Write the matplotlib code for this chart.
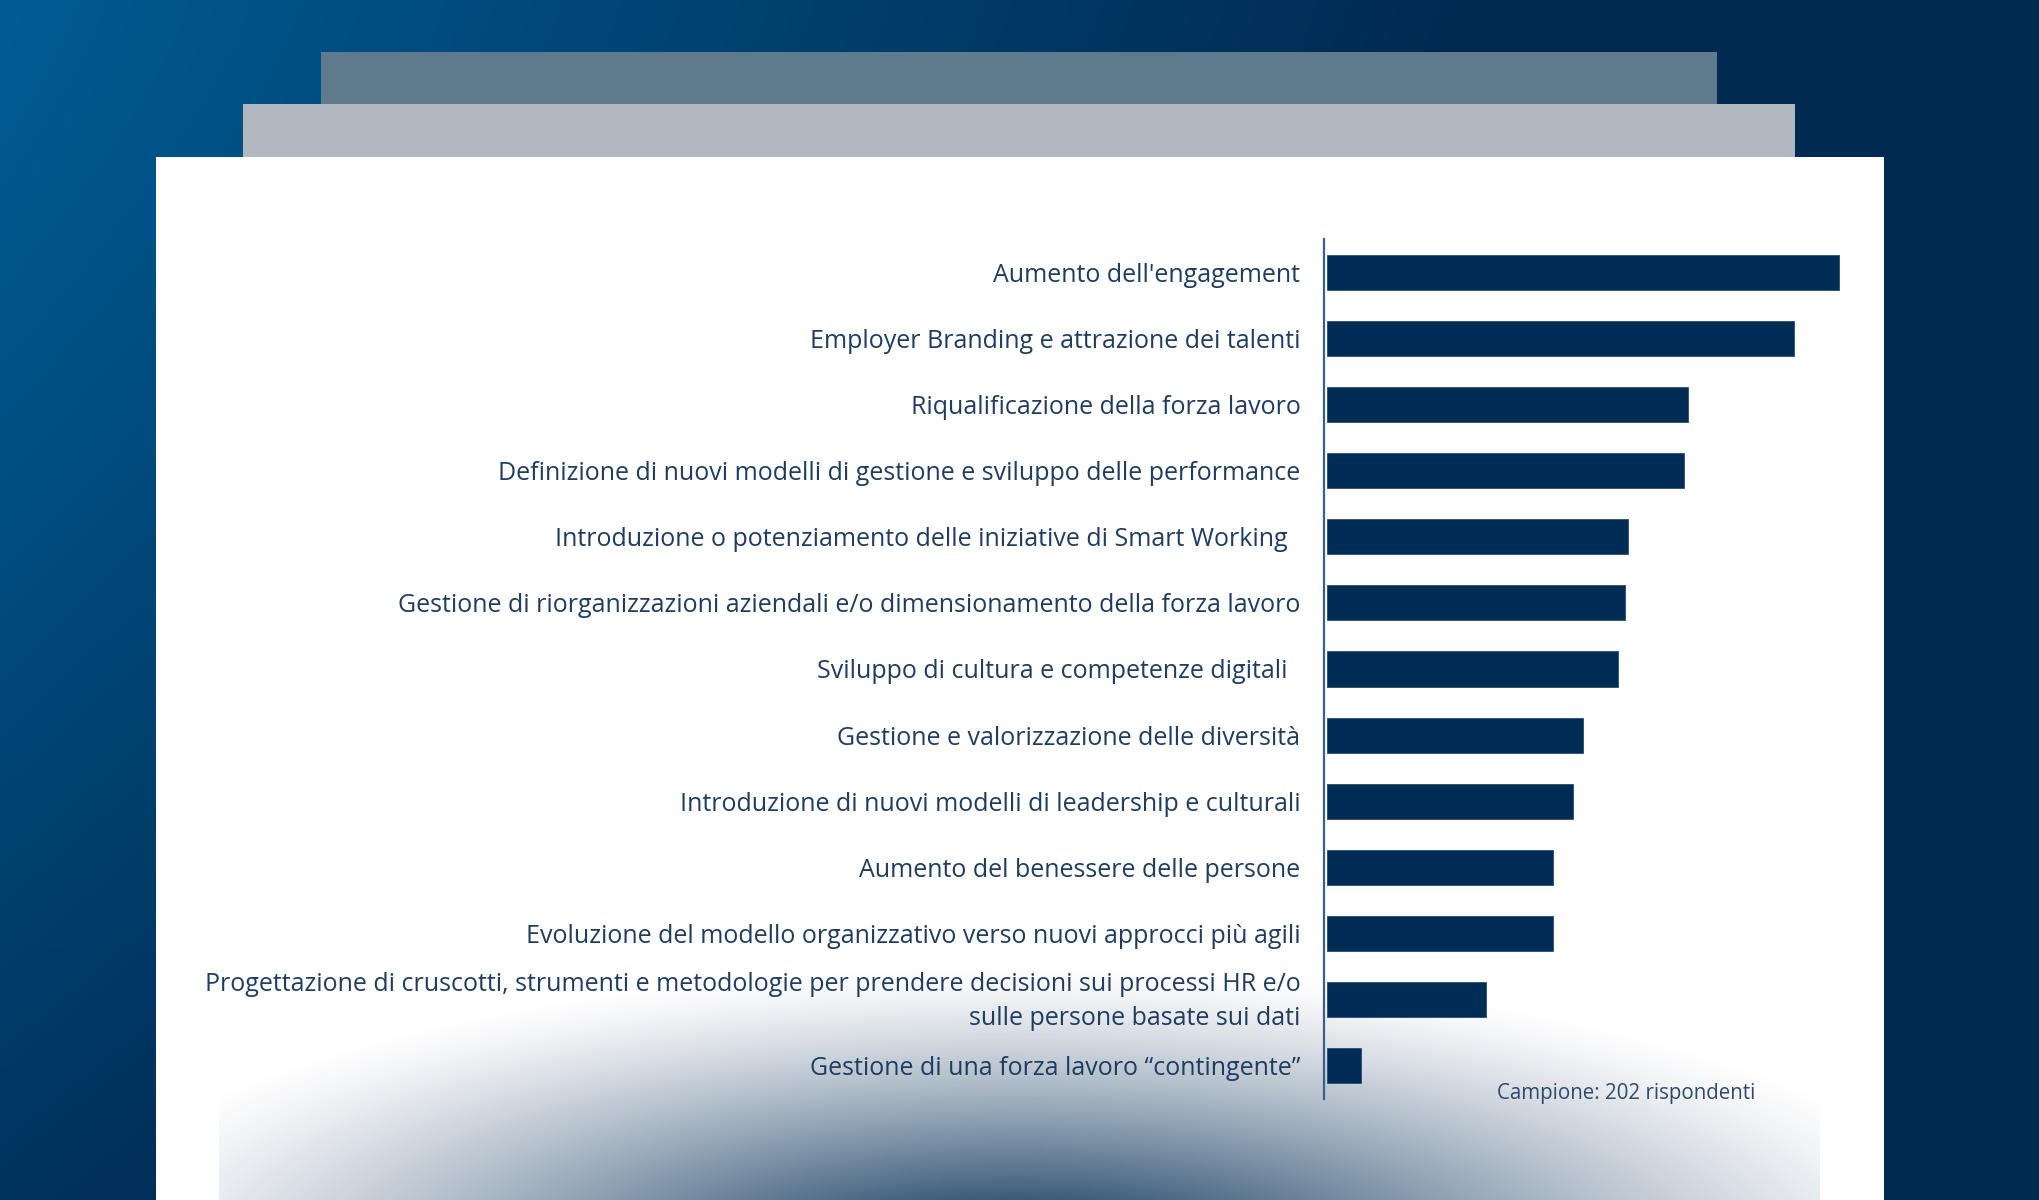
import numpy as np
import matplotlib
matplotlib.use("Agg")
import matplotlib.pyplot as plt
import matplotlib.transforms as mtransforms
from matplotlib.patches import Rectangle

# ---------------- data ----------------
categories = [
    "Aumento dell'engagement",
    "Employer Branding e attrazione dei talenti",
    "Riqualificazione della forza lavoro",
    "Definizione di nuovi modelli di gestione e sviluppo delle performance",
    "Introduzione o potenziamento delle iniziative di Smart Working  ",
    "Gestione di riorganizzazioni aziendali e/o dimensionamento della forza lavoro",
    "Sviluppo di cultura e competenze digitali  ",
    "Gestione e valorizzazione delle diversità",
    "Introduzione di nuovi modelli di leadership e culturali",
    "Aumento del benessere delle persone",
    "Evoluzione del modello organizzativo verso nuovi approcci più agili",
    "Progettazione di cruscotti, strumenti e metodologie per prendere decisioni sui processi HR e/o\nsulle persone basate sui dati",
    "Gestione di una forza lavoro \u201ccontingente\u201d",
]
values = [50.0, 45.6, 35.3, 34.9, 29.4, 29.1, 28.4, 25.0, 24.0, 22.1, 22.1, 15.6, 3.4]
note = "Campione: 202 rispondenti"

# ---------------- figure ----------------
W, H = 2040, 1200
fig = plt.figure(figsize=(W / 100, H / 100), dpi=100)

bg = fig.add_axes([0, 0, 1, 1])
bg.set_xlim(0, W)
bg.set_ylim(H, 0)
bg.axis("off")

# background gradient
yy, xx = np.mgrid[0:H:4, 0:W:4]
t = np.clip((xx / W) / 0.72 + 0.8 * (yy / H) ** 1.3, 0, 1)
t = t ** 0.95
light = np.array([0x00, 0x5c, 0x93]) / 255
dark = np.array([0x00, 0x2a, 0x52]) / 255
img = light[None, None, :] * (1 - t[..., None]) + dark[None, None, :] * t[..., None]
bg.imshow(img, extent=[0, W, H, 0], aspect="auto", zorder=0, interpolation="bilinear")

# stacked panels
bg.add_patch(Rectangle((321, 52), 1717 - 321, 157 - 52, facecolor="#5f7a8c", edgecolor="none", zorder=1))
bg.add_patch(Rectangle((243, 104), 1795 - 243, 157 - 104, facecolor="#b1b8bf", edgecolor="none", zorder=2))
bg.add_patch(Rectangle((156, 157), 1884 - 156, H - 157, facecolor="white", edgecolor="none", zorder=3))

# bottom glow in white panel
gx0, gx1, gy0, gy1 = 219, 1820, 900, 1200
gy, gx = np.mgrid[gy0:gy1:2, gx0:gx1:2]
r = np.sqrt(((gx - 1015) / 980.0) ** 2 + ((gy - 1262) / 300.0) ** 2)
alpha = np.clip(1.05 * np.clip(1 - r, 0, 1) ** 1.3, 0, 1)
glow = np.zeros(gx.shape + (4,))
glow[..., 0] = 0x00 / 255
glow[..., 1] = 0x2a / 255
glow[..., 2] = 0x52 / 255
glow[..., 3] = alpha
bg.imshow(glow, extent=[gx0, gx1, gy1, gy0], aspect="auto", zorder=4, interpolation="bilinear")

# ---------------- bar chart ----------------
ax = fig.add_axes([1324 / W, 1 - 1099 / H, 560 / W, 860 / H])
ax.patch.set_alpha(0)
y = np.arange(len(categories))
ax.barh(y, values, height=0.53, color="#002c55", edgecolor="#2a4c72", linewidth=0.6, left=0.25)
ax.set_ylim(len(categories) - 0.5, -0.5)
ax.set_xlim(0, 560 / 10.25)
ax.set_yticks(y)
ax.set_yticklabels(categories, fontfamily="Open Sans", fontsize=18, color="#1f3c61",
                   ha="right", multialignment="right", linespacing=1.5)
ax.tick_params(axis="y", length=0, pad=17)
ax.set_xticks([])
for s in ["top", "right", "bottom"]:
    ax.spines[s].set_visible(False)
ax.spines["left"].set_color("#3d5f86")
ax.spines["left"].set_linewidth(1.6)

# nudge the two-line label up slightly to centre it on its bar
for lbl in ax.get_yticklabels():
    if "\n" in lbl.get_text():
        lbl.set_transform(lbl.get_transform() +
                          mtransforms.ScaledTranslation(0, 6 / 100, fig.dpi_scale_trans))

fig.text(1497 / W, 1 - 1093 / H, note, fontfamily="Open Sans", fontsize=14.8,
         color="#2e4a6b", ha="left", va="center")

fig.savefig("out.png", dpi=100)
